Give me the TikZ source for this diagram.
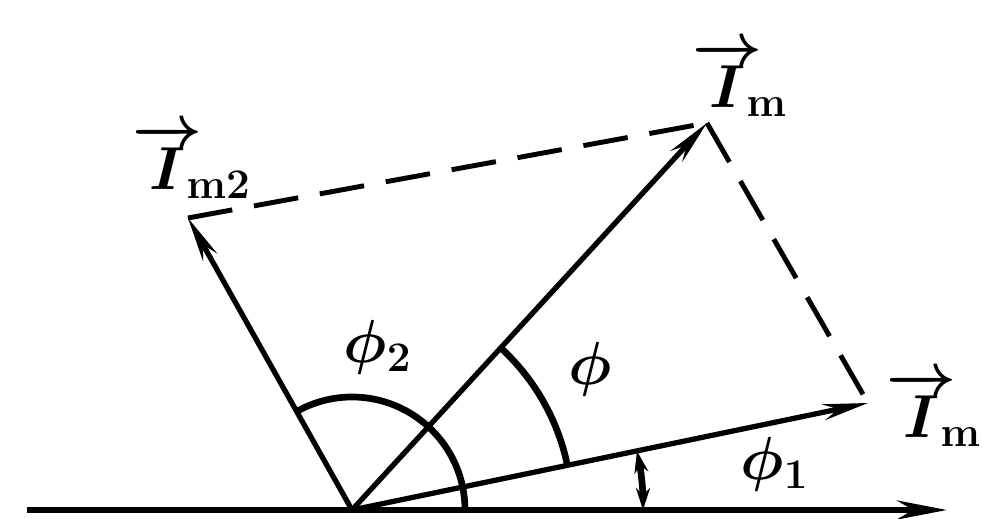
\documentclass[tikz,border=0pt]{standalone}
\usepackage{amsmath}
\usetikzlibrary{arrows.meta, calc}

\newcommand{\phasorI}[1]{\overrightarrow{I}\mkern-4mu{}_{\mathrm{#1}}}

\tikzset{
  vec/.style={line width=1.5pt, -{Stealth[length=4.5mm, width=1.6mm]}},
  comp/.style={line width=1.4pt, dash pattern=on 4.5mm off 2.2mm},
  angarc/.style={line width=1.9pt},
  lbl/.style={font=\fontsize{18}{21}\selectfont\boldmath, inner sep=0pt}
}

\begin{document}
\begin{tikzpicture}[x=0.1mm, y=0.1mm]
  \useasboundingbox (0,0) rectangle (982,519);

  % Origin and phasor tips
  \coordinate (O) at (352,9);
  \coordinate (A1) at (868,116);
  \coordinate (A2) at (188,301);
  \coordinate (A) at (707,396);
  \coordinate (axL) at (27,9);
  \coordinate (axR) at (947,9);

  % Reference axis
  \draw[line width=1.8pt, -{Stealth[length=5mm, width=1.9mm]}] (axL) -- (axR);

  % Parallelogram sides
  \draw[comp] (A2) -- (A);
  \draw[comp] (A) -- (A1);

  % Phasors
  \draw[vec] (O) -- (A1);
  \draw[vec] (O) -- (A2);
  \draw[vec] (O) -- (A);

  % Angles
  \draw[angarc] (O) ++(113,0) arc[start angle=0, end angle=119.3, radius=113];
  \draw[angarc] (O) ++(11.7:220) arc[start angle=11.7, end angle=47.4, radius=220];
  \draw[angarc, {Stealth[length=2.2mm, width=1.4mm]}-{Stealth[length=2.2mm, width=1.4mm]}]
    (O) ++(291,0) arc[start angle=0, end angle=11.7, radius=291];

  % Labels
  \node[lbl] (phi2) at (378,172) {$\phi_2$};
  \node[lbl] (phi) at (590,150) {$\phi$};
  \node[lbl] (phi1) at (775,55) {$\phi_1$};
  \node[lbl] (lbl2) at (192,358) {$\phasorI{m2}$};
  \node[lbl] (lblm) at (740,440) {$\phasorI{m}$};
  \node[lbl] (lbl1) at (934,110) {$\phasorI{m}$};
\end{tikzpicture}
\end{document}
